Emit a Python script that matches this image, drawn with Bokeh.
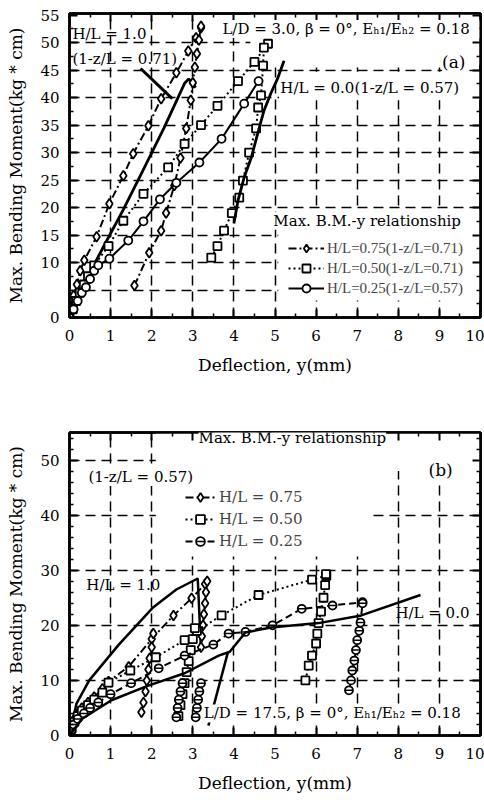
from bokeh.plotting import figure
from bokeh.models import (FixedTicker, LinearAxis, Range1d, Label, Legend, LegendItem,
                          BoxAnnotation)
from bokeh.layouts import column
from bokeh.embed import file_html
from bokeh.resources import INLINE

SERIF = "DejaVu Serif"

# ---------------- axes / ticks ----------------
x_ticks = [0, 1, 2, 3, 4, 5, 6, 7, 8, 9, 10]
x_minor = [0.5, 1.5, 2.5, 3.5, 4.5, 5.5, 6.5, 7.5, 8.5, 9.5]
x_grid = [1, 2, 3, 4, 5, 6, 7, 8, 9]

a_y_ticks = [0, 10, 15, 20, 25, 30, 35, 40, 45, 50, 55]
a_y_minor = [2.5, 5, 7.5, 12.5, 17.5, 22.5, 27.5, 32.5, 37.5, 42.5, 47.5, 52.5]
a_y_grid = [5, 10, 15, 20, 25, 30, 35, 40, 45, 50]

b_y_ticks = [0, 10, 20, 30, 40, 50]
b_y_minor = [2, 4, 6, 8, 12, 14, 16, 18, 22, 24, 26, 28, 32, 34, 36, 38, 42, 44, 46, 48, 52, 54]
b_y_grid = [10, 20, 30, 40, 50]

# ---------------- panel (a) data ----------------
a_h100_x = [0, 0.27, 0.8, 1.3, 1.77, 2.3, 2.8, 2.9, 3.07]
a_h100_y = [0, 4.9, 12.5, 19.5, 26.5, 34.5, 42.6, 43.4, 41.8]

a_h75_x = [0, 0.05, 0.1, 0.18, 0.26, 0.36, 0.66, 0.97, 1.31, 1.55, 1.92, 2.23, 2.6, 2.89, 3.08, 3.2]
a_h75_y = [0, 2.0, 4.0, 6.0, 8.5, 10.4, 14.7, 20.7, 25.8, 29.8, 34.9, 39.8, 44.5, 48.5, 50.9, 52.7]
a_h75r_x = [1.58, 1.94, 2.23, 2.35, 2.55, 2.7, 2.84, 2.95, 3.0, 3.05, 3.1, 3.15, 3.2]
a_h75r_y = [5.8, 11.8, 15.8, 19.0, 24.0, 29.0, 34.4, 39.5, 42.7, 45.5, 48.0, 50.5, 53.0]

a_h50_x = [0, 0.08, 0.16, 0.25, 0.35, 0.45, 0.6, 0.95, 1.31, 1.8, 2.4, 2.8, 3.2, 3.6, 4.1, 4.5, 4.83]
a_h50_y = [0, 1.5, 3.0, 4.5, 6.0, 7.5, 9.5, 13.0, 17.6, 22.5, 27.3, 31.6, 35.0, 38.5, 43.0, 46.5, 49.8]
a_h50r_x = [3.45, 3.6, 3.76, 3.95, 4.13, 4.22, 4.37, 4.54, 4.59, 4.66, 4.71, 4.73]
a_h50r_y = [10.9, 13.0, 15.8, 19.0, 21.8, 24.9, 30.0, 34.4, 38.2, 40.4, 45.8, 49.1]

a_h25_x = [0, 0.1, 0.2, 0.3, 0.4, 0.5, 0.6, 0.7, 0.97, 1.43, 1.8, 2.2, 2.6, 3.16, 3.7, 4.25, 4.6]
a_h25_y = [0, 1.5, 3.0, 4.5, 5.5, 7.0, 8.5, 9.5, 10.7, 14.0, 17.5, 21.5, 24.5, 28.2, 32.5, 38.9, 43.0]

a_h00_x = [4.0, 4.1, 4.25, 4.42, 4.58, 4.73, 4.9, 5.07, 5.22]
a_h00_y = [17.1, 21.3, 25.5, 29.0, 33.5, 37.6, 40.8, 43.6, 46.7]

# ---------------- panel (b) data ----------------
b_h100_x = [0, 0.17, 0.48, 1.2, 2.04, 2.6, 3.12, 3.2]
b_h100_y = [0, 5.8, 10.0, 16.5, 23.3, 26.5, 28.5, 15.5]

b_h75_x = [0, 0.05, 0.1, 0.2, 0.3, 0.45, 0.6, 0.8, 0.95, 1.44, 2.0, 2.53, 2.97, 3.3]
b_h75_y = [0, 1.5, 2.8, 4.0, 5.0, 6.0, 7.0, 8.5, 9.8, 12.5, 17.5, 21.8, 24.9, 27.5]
b_h75r1_x = [1.75, 1.8, 1.85, 1.88, 1.92, 1.95, 2.0, 2.04]
b_h75r1_y = [4.2, 6.0, 8.0, 10.0, 12.0, 14.0, 16.0, 18.5]
b_h75r2_x = [3.2, 3.22, 3.25, 3.27, 3.3, 3.32, 3.35]
b_h75r2_y = [16.0, 18.0, 20.0, 22.0, 24.0, 26.0, 28.0]

b_h50_x = [0, 0.05, 0.12, 0.2, 0.3, 0.45, 0.6, 0.8, 0.95, 1.48, 2.1, 2.8, 3.1, 3.7, 4.6, 5.9, 6.25]
b_h50_y = [0, 1.2, 2.5, 3.5, 4.5, 5.5, 6.5, 7.8, 9.6, 11.8, 14.2, 17.3, 19.0, 21.8, 25.5, 28.3, 29.0]
b_h50r1_x = [2.65, 2.7, 2.75, 2.8, 2.85, 2.9, 2.95, 3.0, 3.05]
b_h50r1_y = [3.5, 5.5, 7.5, 9.5, 11.5, 13.5, 15.5, 17.5, 19.5]
b_h50r2_x = [5.74, 5.82, 5.9, 6.0, 6.03, 6.06, 6.12, 6.18, 6.22, 6.24]
b_h50r2_y = [10.0, 12.7, 14.5, 16.7, 18.5, 20.4, 22.5, 25.0, 27.3, 29.3]

b_h25_x = [0, 0.05, 0.1, 0.2, 0.35, 0.5, 0.7, 1.0, 1.5, 2.17, 2.8, 3.5, 3.87, 4.28, 4.94, 5.65, 6.4, 7.13]
b_h25_y = [0, 1.0, 2.0, 3.0, 4.0, 5.0, 6.0, 7.5, 9.5, 12.2, 14.5, 16.5, 18.5, 18.8, 20.0, 23.0, 23.6, 24.2]
b_h25r1_x = [2.6, 2.63, 2.66, 2.7, 2.75]
b_h25r1_y = [3.3, 5.0, 6.5, 8.0, 9.5]
b_h25r2_x = [3.07, 3.1, 3.13, 3.16, 3.2]
b_h25r2_y = [3.3, 5.0, 6.5, 8.0, 9.5]
b_h25r3_x = [6.8, 6.85, 6.88, 6.93, 6.97, 7.0, 7.05, 7.08, 7.13]
b_h25r3_y = [8.2, 10.0, 11.8, 13.6, 15.5, 17.3, 19.0, 20.5, 24.0]

b_h00_x = [0, 0.3, 1.02, 1.9, 2.8, 3.63, 3.9, 4.28, 4.9, 6.06, 7.1, 8.54]
b_h00_y = [0, 3.0, 6.4, 9.0, 11.3, 14.5, 15.2, 18.7, 19.6, 20.4, 21.8, 25.5]
b_h00s_x = [3.38, 3.85]
b_h00s_y = [1.8, 15.0]

# ---------------- annotation layout ----------------
a_leader_x = [1.73, 2.5]
a_leader_y = [45.3, 39.8]

FIG_W = 484
DASHDOT = "8 3 2 3"
DOTTED = "2 3"
DASHED = "7 4"


def style_axis(ax, hide_labels=False):
    ax.axis_line_width = 2.5
    ax.axis_line_color = "black"
    ax.major_tick_in = 8
    ax.major_tick_out = 0
    ax.minor_tick_in = 4
    ax.minor_tick_out = 0
    ax.major_tick_line_width = 2
    ax.minor_tick_line_width = 1.5
    ax.major_tick_line_color = "black"
    ax.minor_tick_line_color = "black"
    ax.major_label_text_font = SERIF
    ax.major_label_text_font_size = "15px"
    ax.major_label_text_color = "black"
    ax.axis_label_text_font = SERIF
    ax.axis_label_text_font_size = "17px"
    ax.axis_label_text_font_style = "normal"
    ax.axis_label_text_color = "black"
    if hide_labels:
        ax.major_label_text_color = None
        ax.major_label_text_font_size = "1px"
        ax.major_label_standoff = 0
        ax.axis_label = None
        ax.axis_label_standoff = 0


def make_panel(height, top, bottom, ymax, yticks, yminor, ygrid):
    p = figure(width=FIG_W, height=height, x_range=Range1d(0, 10), y_range=Range1d(0, ymax),
               output_backend="svg", toolbar_location=None,
               min_border_left=69, min_border_right=4, min_border_top=top,
               min_border_bottom=bottom)
    p.outline_line_color = "black"
    p.outline_line_width = 2.5
    p.background_fill_color = "white"
    p.border_fill_color = "white"
    bottom_ax = p.below[0]
    left_ax = p.left[0]
    bottom_ax.ticker = FixedTicker(ticks=x_ticks, minor_ticks=x_minor)
    left_ax.ticker = FixedTicker(ticks=yticks, minor_ticks=yminor)
    top_ax = LinearAxis(ticker=FixedTicker(ticks=x_ticks, minor_ticks=x_minor))
    right_ax = LinearAxis(ticker=FixedTicker(ticks=yticks, minor_ticks=yminor))
    p.add_layout(top_ax, "above")
    p.add_layout(right_ax, "right")
    for ax in (bottom_ax, left_ax):
        style_axis(ax)
    for ax in (top_ax, right_ax):
        style_axis(ax, hide_labels=True)
    bottom_ax.axis_label = "Deflection, y(mm)"
    left_ax.axis_label = "Max. Bending Moment(kg * cm)"
    bottom_ax.major_label_standoff = 12
    bottom_ax.axis_label_standoff = 11
    left_ax.major_label_standoff = 10
    left_ax.axis_label_standoff = 11
    p.xgrid.ticker = FixedTicker(ticks=x_grid)
    p.ygrid.ticker = FixedTicker(ticks=ygrid)
    for g in (p.xgrid, p.ygrid):
        g.grid_line_color = "black"
        g.grid_line_width = 1.5
        g.grid_line_dash = "10 6"
    return p


def mask(p, left, right, bottom, top):
    p.add_layout(BoxAnnotation(left=left, right=right, bottom=bottom, top=top,
                               fill_color="white", fill_alpha=1, line_alpha=0,
                               level="underlay"))


def curve(p, x, y, dash, marker=None, width=2.0, size=8, bar=False):
    rs = [p.line(x, y, line_color="black", line_width=width, line_dash=dash)]
    if marker:
        rs.append(p.scatter(x, y, marker=marker, size=size, line_color="black",
                            fill_color="white", line_width=1.8))
        if bar:
            rs.append(p.scatter(x, y, marker="dash", size=size, line_color="black",
                                line_width=1.5))
    return rs


def label(p, x, y, text, size="15px", align="left", bg=True, font=SERIF):
    p.add_layout(Label(x=x, y=y, text=text, text_font=font, text_font_size=size,
                       text_align=align, text_baseline="middle", text_color="black",
                       background_fill_color="white" if bg else None,
                       background_fill_alpha=1 if bg else 0))


# ================= panel (a) =================
pa = make_panel(400, 13, 83, 55.3, a_y_ticks, a_y_minor, a_y_grid)
mask(pa, 5.08, 10, 3.1, 19.6)
mask(pa, 4.4, 10, 46.0, 55.3)
mask(pa, 5.1, 10, 39.5, 44.7)

curve(pa, a_h100_x, a_h100_y, "solid", width=2.8)
pa.line(a_leader_x, a_leader_y, line_color="black", line_width=3)
r75 = curve(pa, a_h75_x, a_h75_y, DASHDOT, "diamond", size=10)
curve(pa, a_h75r_x, a_h75r_y, DASHDOT, "diamond", size=10)
r50 = curve(pa, a_h50_x, a_h50_y, DOTTED, "square", size=8)
curve(pa, a_h50r_x, a_h50r_y, DOTTED, "square", size=8)
r25 = curve(pa, a_h25_x, a_h25_y, "solid", "circle", size=8)
curve(pa, a_h00_x, a_h00_y, "solid", width=2.8)

label(pa, 0.07, 51.6, "H/L = 1.0", bg=False)
label(pa, 0.07, 47.1, "(1-z/L = 0.71)", bg=False)
label(pa, 9.97, 52.5, "L/D = 3.0,  \u03b2 = 0\u00b0,  E\u2095\u2081/E\u2095\u2082 = 0.18", align="right")
label(pa, 9.35, 46.4, "(a)", size="17px", align="center")
label(pa, 5.13, 41.8, "H/L = 0.0(1-z/L = 0.57)")
label(pa, 4.96, 17.6, "Max. B.M.-y relationship")

leg_a = Legend(items=[
    LegendItem(label="H/L=0.75(1-z/L=0.71)", renderers=r75),
    LegendItem(label="H/L=0.50(1-z/L=0.71)", renderers=r50),
    LegendItem(label="H/L=0.25(1-z/L=0.57)", renderers=r25)],
    location=(217, 17), orientation="vertical", glyph_width=36, glyph_height=20,
    label_height=20, spacing=0, padding=2, margin=0, label_standoff=3,
    label_text_font="Liberation Serif", label_text_font_size="15px",
    background_fill_alpha=0, border_line_alpha=0)
pa.add_layout(leg_a)

# ================= panel (b) =================
pb = make_panel(398, 32, 63, 55, b_y_ticks, b_y_minor, b_y_grid)
mask(pb, 2.1, 7.3, 32.5, 55)
mask(pb, 7.3, 10, 48.0, 55)

curve(pb, b_h100_x, b_h100_y, "solid", width=2.5)
q75 = curve(pb, b_h75_x, b_h75_y, DASHDOT, "diamond", size=10)
curve(pb, b_h75r1_x, b_h75r1_y, DASHDOT, "diamond", size=10)
curve(pb, b_h75r2_x, b_h75r2_y, DASHDOT, "diamond", size=10)
q50 = curve(pb, b_h50_x, b_h50_y, DOTTED, "square", size=8)
curve(pb, b_h50r1_x, b_h50r1_y, DOTTED, "square", size=8)
curve(pb, b_h50r2_x, b_h50r2_y, DOTTED, "square", size=8)
q25 = curve(pb, b_h25_x, b_h25_y, DASHED, "circle", size=8, bar=True)
curve(pb, b_h25r1_x, b_h25r1_y, DASHED, "circle", size=8, bar=True)
curve(pb, b_h25r2_x, b_h25r2_y, DASHED, "circle", size=8, bar=True)
curve(pb, b_h25r3_x, b_h25r3_y, DASHED, "circle", size=8, bar=True)
curve(pb, b_h00_x, b_h00_y, "solid", width=2.5)
curve(pb, b_h00s_x, b_h00s_y, "solid", width=2.5)

label(pb, 3.14, 54.0, "Max. B.M.-y relationship")
label(pb, 9.03, 48.2, "(b)", size="17px", align="center")
label(pb, 0.46, 46.9, "(1-z/L = 0.57)")
label(pb, 0.41, 27.3, "H/L = 1.0", bg=False)
label(pb, 7.93, 22.2, "H/L = 0.0", bg=False)
label(pb, 9.75, 4.0, "L/D = 17.5,  \u03b2 = 0\u00b0,  E\u2095\u2081/E\u2095\u2082 = 0.18", align="right")

leg_b = Legend(items=[
    LegendItem(label="H/L = 0.75", renderers=q75),
    LegendItem(label="H/L = 0.50", renderers=q50),
    LegendItem(label="H/L = 0.25", renderers=q25)],
    location=(114, 181), orientation="vertical", glyph_width=30, glyph_height=22,
    label_height=22, spacing=0, padding=2, margin=0, label_standoff=4,
    label_text_font=SERIF, label_text_font_size="15px",
    background_fill_alpha=0, border_line_alpha=0)
pb.add_layout(leg_b)

layout = column(pa, pb)
open("out.html", "w").write(file_html(layout, INLINE))
